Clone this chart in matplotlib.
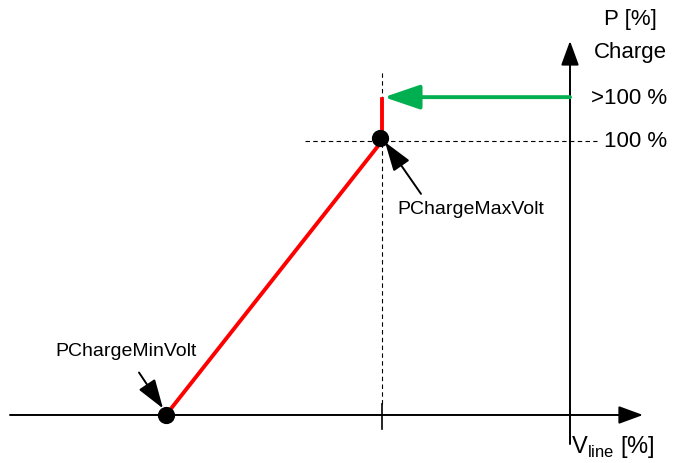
import matplotlib.pyplot as plt

plt.rcParams["font.family"] = ["Liberation Sans", "DejaVu Sans"]

# characteristic points: x = line voltage position (diagram units), y = P [%]
v_min, v_max, v_axis = 166, 382, 570
curve_v = [166, 382, 382]
curve_p = [0, 100, 116]
p_over = 116
dot_v = [166, 380]
dot_p = [0, 101]

fig = plt.figure(figsize=(6.75, 4.64), dpi=100)
ax = fig.add_axes([0, 0, 1, 1])
ax.set_xlim(0, 675)
ax.set_ylim(-17.52, 151.82)
ax.axis("off")

# axes with arrows
ax.annotate("", xy=(643, 0), xytext=(10, 0),
            arrowprops=dict(arrowstyle="-|>,head_length=1.5,head_width=0.55",
                            color="black", lw=1.4, shrinkA=0, shrinkB=0))
ax.annotate("", xy=(v_axis, 136.5), xytext=(v_axis, -10.6),
            arrowprops=dict(arrowstyle="-|>,head_length=1.5,head_width=0.55",
                            color="black", lw=1.4, shrinkA=0, shrinkB=0))

# tick on x axis at max voltage
ax.plot([v_max, v_max], [-5.1, 4.0], color="black", lw=1.2)

# guide lines
ax.plot([v_max, v_max], [4.0, 125.2], color="black", lw=0.8, ls=(0, (4, 3)))
ax.plot([305, 597], [100, 100], color="black", lw=0.8, ls=(0, (4, 3)))

# characteristic
ax.plot(curve_v, curve_p, color="#ff0000", lw=2.8, solid_capstyle="butt", zorder=3)
ax.scatter(dot_v, dot_p, s=130, color="black", zorder=4)

# green arrow from axis to curve
ax.annotate("", xy=(v_max + 2, p_over), xytext=(v_axis, p_over),
            arrowprops=dict(arrowstyle="-|>,head_length=2.2,head_width=0.75",
                            color="#00b050", lw=2.8, shrinkA=0, shrinkB=0),
            zorder=5)

# annotations
ax.annotate("", xy=(385, 99.6), xytext=(421, 80.7),
            arrowprops=dict(arrowstyle="-|>,head_length=1.8,head_width=0.6",
                            color="black", lw=1.4, shrinkA=0, shrinkB=0), zorder=5)
ax.text(397, 75.2, "PChargeMaxVolt", fontsize=14, va="center", ha="left")
ax.annotate("", xy=(163, 2.4), xytext=(139, 15.5),
            arrowprops=dict(arrowstyle="-|>,head_length=1.8,head_width=0.6",
                            color="black", lw=1.4, shrinkA=0, shrinkB=0), zorder=5)
ax.text(55, 23.4, "PChargeMinVolt", fontsize=14, va="center", ha="left")

# axis labels
ax.text(667, p_over, ">100 %", fontsize=16, va="center", ha="right")
ax.text(667, 100, "100 %", fontsize=16, va="center", ha="right")
ax.text(630, 144.8, "P [%]", fontsize=16, va="center", ha="center")
ax.text(630, 132.6, "Charge", fontsize=16, va="center", ha="center")
ax.text(571, -11.3, r"V$_{\mathregular{line}}$ [%]", fontsize=17, va="center", ha="left")

fig.savefig("out.png", dpi=100)
